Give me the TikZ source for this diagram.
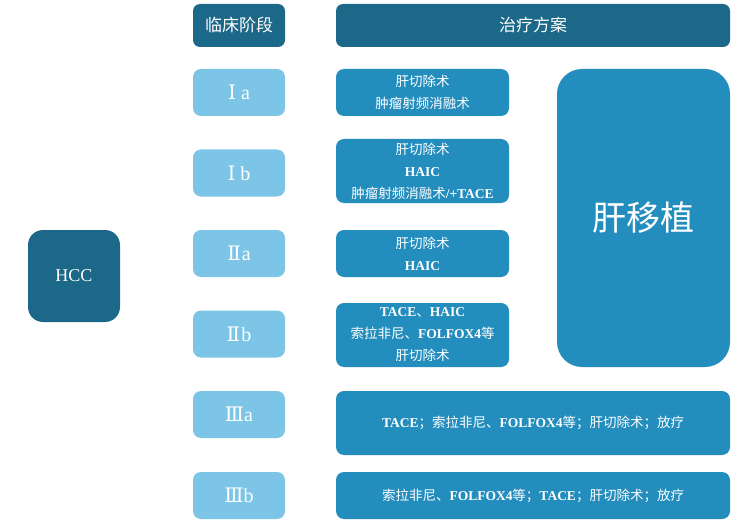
\documentclass[tikz,border=0pt]{standalone}
\usepackage{fontspec}
\setmainfont{Liberation Serif}
\newfontfamily\cjk{Noto Sans CJK SC}
\newfontfamily\romfont{DejaVu Serif}
\newcommand{\zh}[1]{{\cjk\mdseries #1}}
\newcommand{\rom}[1]{{\romfont #1}}
\definecolor{darkteal}{HTML}{1C6888}
\definecolor{midblue}{HTML}{238DBE}
\definecolor{lightblue}{HTML}{7CC5E7}
\tikzset{
	headbox/.style={fill=darkteal,text=white,rounded corners=7pt,inner sep=0pt,font=\fontsize{17}{19}\selectfont},
	stagebox/.style={fill=lightblue,text=white,rounded corners=8pt,inner sep=0pt,minimum width=92pt,minimum height=47pt,font=\fontsize{20}{22}\selectfont},
	planbox/.style={fill=midblue,text=white,rounded corners=8pt,inner sep=0pt,align=center,font=\fontsize{13.5}{22}\selectfont\bfseries}
}
\begin{document}
\begin{tikzpicture}[x=1pt,y=-1pt]
	\useasboundingbox (0,0) rectangle (750,532);
	% headers
	\node[headbox,minimum width=92pt,minimum height=43pt] (stagehead) at (239,25.5) {\zh{临床阶段}};
	\node[headbox,minimum width=394pt,minimum height=43pt] (planhead) at (533,25.5) {\zh{治疗方案}};
	\node[headbox,rounded corners=15pt,minimum width=92pt,minimum height=92pt,font=\fontsize{18}{20}\selectfont] (hcc) at (74,276) {HCC};
	% stages
	\node[stagebox] (sIa) at (239,92.5) {\rom{Ⅰ}\hspace{5pt}a};
	\node[stagebox] (sIb) at (239,173) {\rom{Ⅰ}\hspace{5pt}b};
	\node[stagebox] (sIIa) at (239,253.5) {\rom{Ⅱ}\hspace{1pt}a};
	\node[stagebox] (sIIb) at (239,334) {\rom{Ⅱ}\hspace{1pt}b};
	\node[stagebox] (sIIIa) at (239,414.5) {\rom{Ⅲ}a};
	\node[stagebox] (sIIIb) at (239,495.5) {\rom{Ⅲ}b};
	% plans
	\node[planbox,minimum width=173pt,minimum height=47pt] (pIa) at (422.5,92.5) {\zh{肝切除术}\\\zh{肿瘤射频消融术}};
	\node[planbox,minimum width=173pt,minimum height=64pt] (pIb) at (422.5,171) {\zh{肝切除术}\\HAIC\\\zh{肿瘤射频消融术}/+TACE};
	\node[planbox,minimum width=173pt,minimum height=47pt] (pIIa) at (422.5,253.5) {\zh{肝切除术}\\HAIC};
	\node[planbox,minimum width=173pt,minimum height=64pt] (pIIb) at (422.5,335) {TACE\zh{、}HAIC\\\zh{索拉非尼、}FOLFOX4\zh{等}\\\zh{肝切除术}};
	\node[planbox,minimum width=394pt,minimum height=64pt] (pIIIa) at (533,423) {TACE\zh{；索拉非尼、}FOLFOX4\zh{等；肝切除术；放疗}};
	\node[planbox,minimum width=394pt,minimum height=47pt] (pIIIb) at (533,495.5) {\zh{索拉非尼、}FOLFOX4\zh{等；}TACE\zh{；肝切除术；放疗}};
	\node[planbox,rounded corners=25pt,minimum width=173pt,minimum height=298pt,font=\fontsize{34}{36}\selectfont] (liver) at (643.5,218) {\zh{肝移植}};
\end{tikzpicture}
\end{document}
